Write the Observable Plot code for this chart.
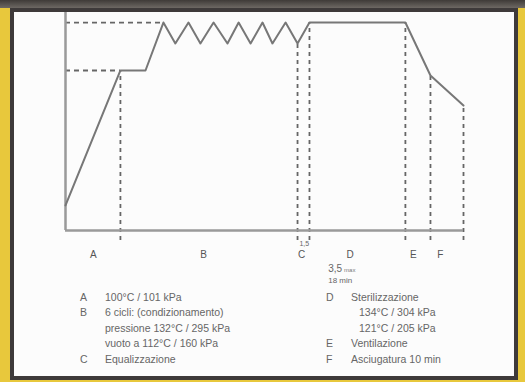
<!DOCTYPE html>
<html><head><meta charset="utf-8">
<script src="https://cdn.jsdelivr.net/npm/d3@7"></script>
<script src="https://cdn.jsdelivr.net/npm/@observablehq/plot@0.6"></script>
<style>
html,body{margin:0;padding:0;background:#e8c83c;}
#frame{position:relative;width:525px;height:382px;background:#e8c83c;overflow:hidden;font-family:"Liberation Sans",Arial,sans-serif;}
#topband{position:absolute;left:0;top:0;width:525px;height:8px;background:linear-gradient(#3f3b38,#6d6863);}
#panel{position:absolute;left:10px;top:8px;width:508px;height:372px;box-sizing:border-box;border:4px solid #3e3a3a;background:#fcfcfc;}
#chart{position:absolute;left:14px;top:12px;}
#legend{position:absolute;left:80px;top:289px;display:flex;gap:0;color:#666;font-size:10.5px;}
.col{display:grid;grid-template-columns:25px auto;grid-auto-rows:15.5px;align-items:center;}
.col.left{width:246px;}
</style></head>
<body>
<div id="frame">
  <div id="topband"></div>
  <div id="panel"></div>
  <div id="chart"></div>
  <div id="legend"></div>
</div>
<script>
// cycle curve (x: % of cycle, y: relative level)
const curveX = [0, 13.8, 20.1, 24.6, 27.6, 30.9, 33.9, 37.2, 40.7, 43.5, 46.5, 49.5, 52.0, 55.3, 58.3, 61.3, 85.4, 91.7, 100];
const curveY = [11.5, 73.4, 73.4, 95.4, 85.8, 95.4, 85.8, 95.4, 85.8, 95.4, 85.8, 95.4, 85.8, 95.4, 85.8, 95.4, 95.4, 71.1, 57.3];
// phase boundaries (vertical dashed lines)
const boundaryX = [13.8, 58.3, 61.3, 85.4, 91.7, 100];
const boundaryTop = [73.4, 85.8, 95.4, 95.4, 71.1, 57.3];
// reference levels (horizontal dashed lines)
const levelY = [95.4, 73.4];
const levelEnd = [24.6, 13.8];
// phase letters under the axis
const phaseLetters = ["A", "B", "C", "D", "E", "F"];
const phaseLetterX = [7.0, 34.7, 59.3, 71.5, 87.4, 94.2];
// legend
const legendLeftKeys = ["A", "B", "", "", "C"];
const legendLeftText = ["100°C / 101 kPa", "6 cicli: (condizionamento)", "pressione 132°C / 295 kPa", "vuoto a 112°C / 160 kPa", "Equalizzazione"];
const legendRightKeys = ["D", "", "", "E", "F"];
const legendRightText = ["Sterilizzazione", "134°C / 304 kPa", "121°C / 205 kPa", "Ventilazione", "Asciugatura 10 min"];

const curve = curveX.map((x, i) => ({x, y: curveY[i]}));
const bounds = boundaryX.map((x, i) => ({x, top: boundaryTop[i]}));
const levels = levelY.map((y, i) => ({y, end: levelEnd[i]}));
const letters = phaseLetters.map((t, i) => ({t, x: phaseLetterX[i]}));

const gray = "#777";
const chart = Plot.plot({
  width: 500, height: 275,
  marginLeft: 51, marginRight: 51, marginTop: 0, marginBottom: 57,
  x: {domain: [0, 100], axis: null},
  y: {domain: [0, 100], axis: null},
  style: {fontFamily: "'Liberation Sans', Arial, sans-serif", background: "transparent", overflow: "visible"},
  marks: [
    Plot.ruleY(levels, {y: "y", x1: 0, x2: "end", stroke: "#666", strokeWidth: 1.8, strokeDasharray: "5,4"}),
    Plot.ruleX(bounds, {x: "x", y1: -4.6, y2: "top", stroke: "#666", strokeWidth: 1.8, strokeDasharray: "4,4"}),
    Plot.ruleX([0], {y1: 0, y2: 100, stroke: "#9a9a9a", strokeWidth: 2.5}),
    Plot.ruleY([0], {x1: 0, x2: 100, stroke: "#9a9a9a", strokeWidth: 2.5}),
    Plot.line(curve, {x: "x", y: "y", stroke: gray, strokeWidth: 2}),
    Plot.text(letters, {x: "x", y: -11, text: "t", fontSize: 10, fill: "#555"}),
    Plot.text(["1,5"], {x: 60.0, y: -6, text: d => d, fontSize: 7, fill: "#666"}),
    Plot.text(["3,5"], {x: 66.0, y: -17.5, text: d => d, fontSize: 10, fill: "#666", textAnchor: "start"}),
    Plot.text(["max"], {x: 70.0, y: -18, text: d => d, fontSize: 6, fill: "#777", textAnchor: "start"}),
    Plot.text(["18 min"], {x: 66.0, y: -23, text: d => d, fontSize: 8, fill: "#666", textAnchor: "start"})
  ]
});
document.getElementById("chart").appendChild(chart);

function col(keys, texts, cls) {
  const c = document.createElement("div");
  c.className = "col " + cls;
  keys.forEach((k, i) => {
    const a = document.createElement("div"); a.textContent = k;
    const b = document.createElement("div"); b.textContent = texts[i];
    if (cls === "right" && k === "" ) b.style.paddingLeft = "8px";
    c.appendChild(a); c.appendChild(b);
  });
  return c;
}
const lg = document.getElementById("legend");
lg.appendChild(col(legendLeftKeys, legendLeftText, "left"));
lg.appendChild(col(legendRightKeys, legendRightText, "right"));
</script>
</body></html>
